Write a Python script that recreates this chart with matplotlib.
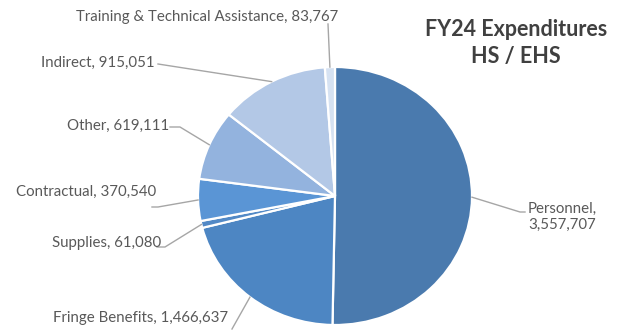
import numpy as np
import matplotlib.pyplot as plt
from matplotlib.lines import Line2D

# data (clockwise from 12 o'clock)
categories = ["Personnel", "Fringe Benefits", "Supplies", "Contractual",
              "Other", "Indirect", "Training & Technical Assistance"]
values = [3557707, 1466637, 61080, 370540, 619111, 915051, 83767]
colors = ["#4a7aae", "#4d86c3", "#5289c6", "#5a95d5", "#93b3de", "#b3c8e6", "#d6e2f2"]

title = "FY24 Expenditures\nHS / EHS"

W, H = 627, 330
fig = plt.figure(figsize=(W / 100, H / 100), dpi=100)

# pie axes (slightly elliptical, like the original)
left, right, top, bottom = 198, 472, 67, 325
ax = fig.add_axes([left / W, (H - bottom) / H, (right - left) / W, (bottom - top) / H])
wedges, _ = ax.pie(values, colors=colors, startangle=90, counterclock=False,
                   wedgeprops=dict(edgecolor="white", linewidth=1.6))
ax.set_xlim(-1, 1)
ax.set_ylim(-1, 1)
ax.set_aspect("auto")
ax.axis("off")

# overlay in pixel coords for labels and leader lines
ov = fig.add_axes([0, 0, 1, 1], facecolor="none")
ov.set_xlim(0, W)
ov.set_ylim(H, 0)
ov.axis("off")


def edge_point(w):
    a = np.deg2rad((w.theta1 + w.theta2) / 2)
    disp = ax.transData.transform((np.cos(a), np.sin(a)))
    return ov.transData.inverted().transform(disp)


txt_color = "#595959"
line_color = "#a6a6a6"
font = "Lato"
fs = 10.8

# label placement: (text centre, leader line points near the label)
layout = {
    "Personnel": ((562, 217), [(525, 212), (520, 212)]),
    "Fringe Benefits": ((141, 318), [(232, 329)]),
    "Supplies": ((107, 243), [(157, 247), (165, 247)]),
    "Contractual": ((86, 192), [(152, 207), (158, 207)]),
    "Other": ((118, 126), [(170, 127), (180, 127)]),
    "Indirect": ((98, 63), [(158, 64)]),
    "Training & Technical Assistance": ((207, 17), [(328, 24)]),
}

for w, cat, v in zip(wedges, categories, values):
    (tx, ty), pts = layout[cat]
    ex, ey = edge_point(w)
    xs = [p[0] for p in pts] + [ex]
    ys = [p[1] for p in pts] + [ey]
    ov.add_line(Line2D(xs, ys, color=line_color, linewidth=1.0))
    if cat == "Personnel":
        label = f"{cat},\n{v:,}"
    else:
        label = f"{cat}, {v:,}"
    ov.text(tx, ty, label, ha="center", va="center", fontsize=fs,
            color=txt_color, family=font, linespacing=1.2)

ov.text(516, 43, title, ha="center", va="center", fontsize=15.5,
        fontweight="bold", color="#404040", family=font, linespacing=1.3)

fig.savefig("out.png", dpi=100)
